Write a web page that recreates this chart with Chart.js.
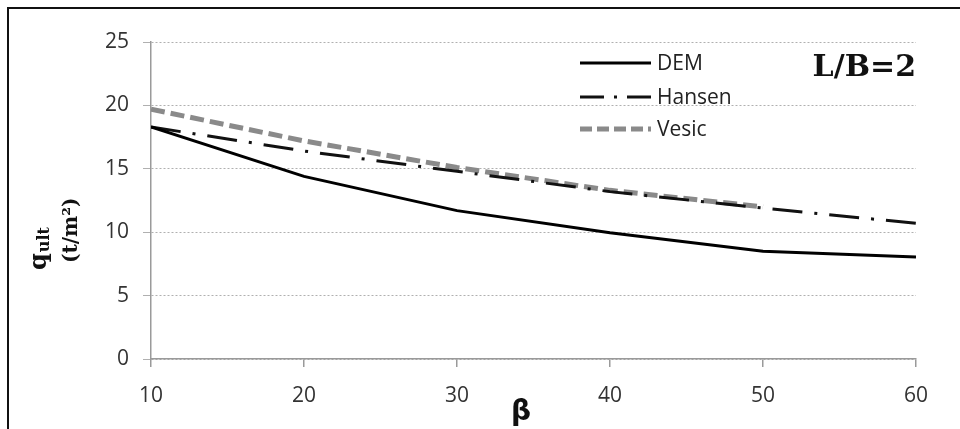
<!DOCTYPE html>
<html lang="en">
<head>
    <meta charset="UTF-8">
    <script src="https://cdn.jsdelivr.net/npm/chart.js"></script>
    <title>qult vs beta</title>
    <style>
        body {
            margin: 0;
            background-color: #fff;
        }

        #wrap {
            width: 960px;
            height: 429px;
        }
    </style>
</head>
<body>
    <div id="wrap">
        <canvas id="qultChart" width="960" height="429"></canvas>
    </div>

    <script>
        // valeurs (L/B = 2)
        const betaValues = [10, 20, 30, 40, 50, 60];
        const demValues = [18.3, 14.4, 11.7, 9.95, 8.5, 8.05];
        const hansenValues = [18.3, 16.4, 14.8, 13.2, 11.9, 10.7];
        const vesicValues = [19.7, 17.2, 15.1, 13.3, 12.0, null];
        const seriesNames = ['DEM', 'Hansen', 'Vesic'];
        const yTickValues = [0, 5, 10, 15, 20, 25];
        const xTickValues = [10, 20, 30, 40, 50, 60];

        function toPoints(values) {
            return betaValues.map((b, i) => ({ x: b, y: values[i] }));
        }

        const tickFont = { family: 'Open Sans', size: 21 };

        // legende, titres des axes et cadre
        const extrasPlugin = {
            id: 'extras',
            afterDraw(chart) {
                const ctx = chart.ctx;
                ctx.save();

                // cadre noir (haut et gauche seulement, le reste est hors image)
                ctx.strokeStyle = '#111';
                ctx.lineWidth = 2;
                ctx.beginPath();
                ctx.moveTo(8, 429);
                ctx.lineTo(8, 8);
                ctx.lineTo(960, 8);
                ctx.stroke();

                // legende
                const rows = [63, 97, 129];
                chart.data.datasets.forEach((ds, i) => {
                    ctx.beginPath();
                    ctx.strokeStyle = ds.borderColor;
                    ctx.lineWidth = ds.borderWidth;
                    ctx.setLineDash(ds.legendDash || []);
                    ctx.moveTo(580, rows[i]);
                    ctx.lineTo(651, rows[i]);
                    ctx.stroke();
                    ctx.setLineDash([]);
                    ctx.fillStyle = '#222';
                    ctx.font = '21px "Open Sans"';
                    ctx.textBaseline = 'middle';
                    ctx.textAlign = 'left';
                    ctx.fillText(ds.label, 657, rows[i] + 1);
                });

                // L/B=2
                ctx.fillStyle = '#111';
                ctx.font = 'bold 30px "DejaVu Serif"';
                ctx.textBaseline = 'alphabetic';
                ctx.textAlign = 'right';
                ctx.fillText('L/B=2', 916, 76);

                // beta
                ctx.font = 'bold 28px "DejaVu Sans"';
                ctx.textAlign = 'center';
                ctx.fillText('\u03B2', 521, 420);

                // titre axe y : q_ult (t/m²)
                ctx.save();
                ctx.translate(46, 270);
                ctx.rotate(-Math.PI / 2);
                ctx.textAlign = 'left';
                ctx.font = 'bold 24px "DejaVu Serif"';
                ctx.fillText('q', 0, 0);
                const qw = ctx.measureText('q').width;
                ctx.font = 'bold 16px "DejaVu Serif"';
                ctx.fillText('ult', qw + 1, 3);
                ctx.font = 'bold 20px "DejaVu Serif"';
                ctx.fillText('(t/m\u00B2)', 7, 31);
                ctx.restore();

                ctx.restore();
            }
        };

        const ctx = document.getElementById('qultChart').getContext('2d');
        const myChart = new Chart(ctx, {
            type: 'line',
            data: {
                datasets: [{
                    label: seriesNames[0],
                    data: toPoints(demValues),
                    borderColor: '#000',
                    borderWidth: 3,
                    legendDash: []
                }, {
                    label: seriesNames[1],
                    data: toPoints(hansenValues),
                    borderColor: '#111',
                    borderWidth: 3,
                    borderDash: [30, 12, 3, 12],
                    legendDash: [24, 10, 3, 10]
                }, {
                    label: seriesNames[2],
                    data: toPoints(vesicValues),
                    borderColor: '#8a8a8a',
                    borderWidth: 5,
                    borderDash: [14, 6],
                    legendDash: [12, 5]
                }]
            },
            options: {
                responsive: false,
                animation: false,
                events: [],
                layout: {
                    padding: { left: 0, right: 44, top: 42, bottom: 0 }
                },
                elements: {
                    point: { radius: 0 },
                    line: { tension: 0, borderCapStyle: 'butt' }
                },
                plugins: {
                    legend: { display: false },
                    tooltip: { enabled: false }
                },
                scales: {
                    x: {
                        type: 'linear',
                        min: 10,
                        max: 60,
                        afterBuildTicks: (axis) => {
                            axis.ticks = xTickValues.map(v => ({ value: v }));
                        },
                        afterFit: (axis) => { axis.height = 70; },
                        grid: {
                            drawOnChartArea: false,
                            drawTicks: true,
                            tickLength: 8,
                            color: '#9a9a9a',
                            lineWidth: 1.5
                        },
                        border: { color: '#9a9a9a', width: 1.5 },
                        ticks: {
                            font: tickFont,
                            color: '#333',
                            padding: 16,
                            maxRotation: 0
                        }
                    },
                    y: {
                        min: 0,
                        max: 25,
                        afterBuildTicks: (axis) => {
                            axis.ticks = yTickValues.map(v => ({ value: v }));
                        },
                        afterFit: (axis) => { axis.width = 151; },
                        grid: {
                            color: '#b0b0b0',
                            lineWidth: 1,
                            tickLength: 8
                        },
                        border: { color: '#9a9a9a', width: 1.5, dash: [2, 2] },
                        ticks: {
                            font: tickFont,
                            color: '#333',
                            padding: 14
                        }
                    }
                }
            },
            plugins: [extrasPlugin]
        });
    </script>
</body>
</html>
